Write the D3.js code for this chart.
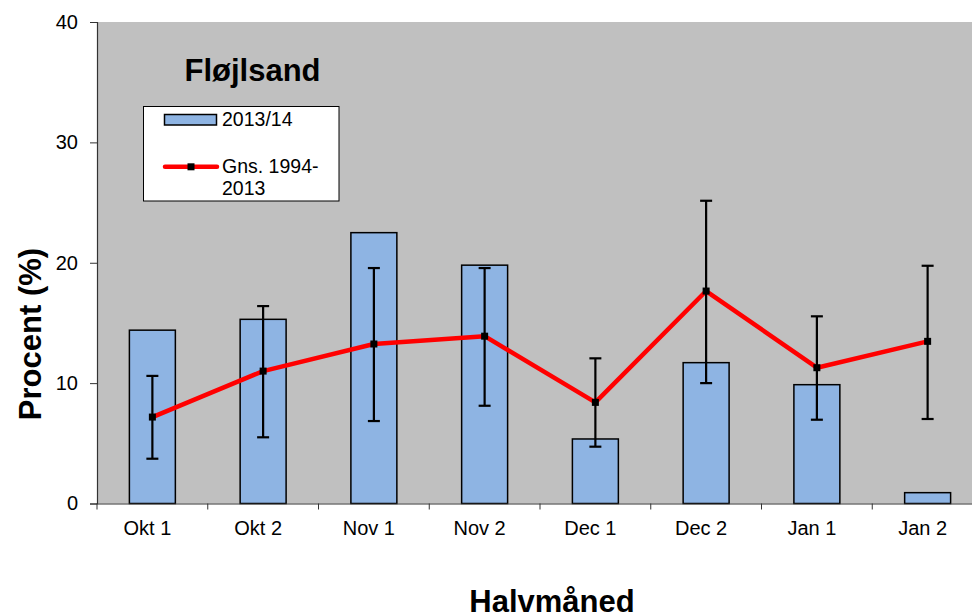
<!DOCTYPE html>
<html><head><meta charset="utf-8">
<script src="https://cdn.jsdelivr.net/npm/d3@7"></script>
<style>body{margin:0;background:#fff}svg{display:block}</style>
</head><body>
<script>
const categories = ["Okt 1","Okt 2","Nov 1","Nov 2","Dec 1","Dec 2","Jan 1","Jan 2"];
const season = [14.4, 15.3, 22.5, 19.8, 5.36, 11.7, 9.87, 0.9];
const average = [7.18, 11.0, 13.25, 13.9, 8.4, 17.65, 11.28, 13.47];
const errLow = [3.72, 5.5, 6.85, 8.12, 4.72, 10.0, 6.96, 7.02];
const errHigh = [10.6, 16.4, 19.56, 19.56, 12.06, 25.15, 15.55, 19.75];
const yTicks = [0, 10, 20, 30, 40];
const seriesNames = ["2013/14", "Gns. 1994-", "2013"];

const W = 972, H = 614;
const m = {left: 97, top: 22, bottom: 503.5};
const plotW = 886;
const FONT = "'Liberation Sans', Arial, sans-serif";
const svg = d3.select("body").append("svg").attr("width", W).attr("height", H)
  .style("font-family", FONT);

const x = d3.scaleBand().domain(categories).range([m.left, m.left + plotW]).paddingInner(0.585).paddingOuter(0.2925);
const xb = d3.scaleBand().domain(categories).range([m.left, m.left + plotW]);
const y = d3.scaleLinear().domain([0, 40]).range([m.bottom, m.top]);

svg.append("rect").attr("x", m.left).attr("y", m.top).attr("width", plotW).attr("height", m.bottom - m.top).attr("fill", "#C0C0C0");

// bars
svg.append("g").selectAll("rect").data(season).join("rect")
  .attr("x", (d, i) => x(categories[i]))
  .attr("y", d => y(d))
  .attr("width", x.bandwidth())
  .attr("height", d => y(0) - y(d))
  .attr("fill", "#8EB4E3").attr("stroke", "#000").attr("stroke-width", 1.5);

// axes
const yAxis = svg.append("g").attr("transform", `translate(${m.left},0)`)
  .call(d3.axisLeft(y).tickValues(yTicks).tickSize(7).tickPadding(12));
yAxis.attr("font-family", FONT).attr("font-size", 20);
yAxis.select(".domain").attr("stroke", "#333").attr("stroke-width", 1.2);
yAxis.selectAll(".tick line").attr("stroke", "#333");
yAxis.selectAll("text").style("font-size", "20px").attr("fill", "#000");

const xAxis = svg.append("g").attr("transform", `translate(0,${m.bottom})`)
  .call(d3.axisBottom(xb).tickSize(0).tickPadding(17));
xAxis.attr("font-family", FONT).attr("font-size", 20);
xAxis.select(".domain").attr("stroke", "#333").attr("stroke-width", 1.2);
xAxis.selectAll("text").style("font-size", "20px").attr("fill", "#000").attr("dx", -5);
// boundary ticks
svg.append("g").selectAll("line").data(categories).join("line")
  .attr("x1", d => xb(d)).attr("x2", d => xb(d))
  .attr("y1", m.bottom).attr("y2", m.bottom + 6)
  .attr("stroke", "#333").attr("stroke-width", 1);

const cx = i => xb(categories[i]) + xb.bandwidth() / 2;

// line
const line = d3.line().x((d, i) => cx(i)).y(d => y(d));
svg.append("path").datum(average).attr("d", line)
  .attr("fill", "none").attr("stroke", "#FF0000").attr("stroke-width", 4.5).attr("stroke-linejoin", "round");

// error bars
const eg = svg.append("g").attr("stroke", "#000").attr("stroke-width", 2.2);
categories.forEach((c, i) => {
  eg.append("line").attr("x1", cx(i)).attr("x2", cx(i)).attr("y1", y(errLow[i])).attr("y2", y(errHigh[i]));
  eg.append("line").attr("x1", cx(i) - 6).attr("x2", cx(i) + 6).attr("y1", y(errLow[i])).attr("y2", y(errLow[i]));
  eg.append("line").attr("x1", cx(i) - 6).attr("x2", cx(i) + 6).attr("y1", y(errHigh[i])).attr("y2", y(errHigh[i]));
});

// markers
svg.append("g").selectAll("rect").data(average).join("rect")
  .attr("x", (d, i) => cx(i) - 3.5).attr("y", d => y(d) - 3.5)
  .attr("width", 7).attr("height", 7).attr("fill", "#000");

// title
svg.append("text").attr("x", 252.5).attr("y", 81).attr("text-anchor", "middle")
  .style("font-size", "31px").attr("font-weight", "bold").text("Fløjlsand");

// legend
const lg = svg.append("g");
lg.append("rect").attr("x", 143.5).attr("y", 106.5).attr("width", 195.5).attr("height", 94.5)
  .attr("fill", "#fff").attr("stroke", "#000").attr("stroke-width", 1);
lg.append("rect").attr("x", 164.5).attr("y", 114.5).attr("width", 52).attr("height", 10.5)
  .attr("fill", "#8EB4E3").attr("stroke", "#000").attr("stroke-width", 1.5);
lg.append("text").attr("x", 222).attr("y", 126).style("font-size", "19.5px").text(seriesNames[0]);
lg.append("line").attr("x1", 165).attr("x2", 217).attr("y1", 166.7).attr("y2", 166.7)
  .attr("stroke", "#FF0000").attr("stroke-width", 4.5).attr("stroke-linecap", "round");
lg.append("rect").attr("x", 187.5).attr("y", 163.3).attr("width", 7).attr("height", 7).attr("fill", "#000");
lg.append("text").attr("x", 222).attr("y", 173).style("font-size", "19.5px").text(seriesNames[1]);
lg.append("text").attr("x", 222).attr("y", 195).style("font-size", "19.5px").text(seriesNames[2]);

// axis titles
svg.append("text").attr("transform", "translate(41,334) rotate(-90)").attr("text-anchor", "middle")
  .style("font-size", "31px").attr("font-weight", "bold").text("Procent (%)");
svg.append("text").attr("x", 552).attr("y", 612).attr("text-anchor", "middle")
  .style("font-size", "31px").attr("font-weight", "bold").text("Halvmåned");
</script>
</body></html>
